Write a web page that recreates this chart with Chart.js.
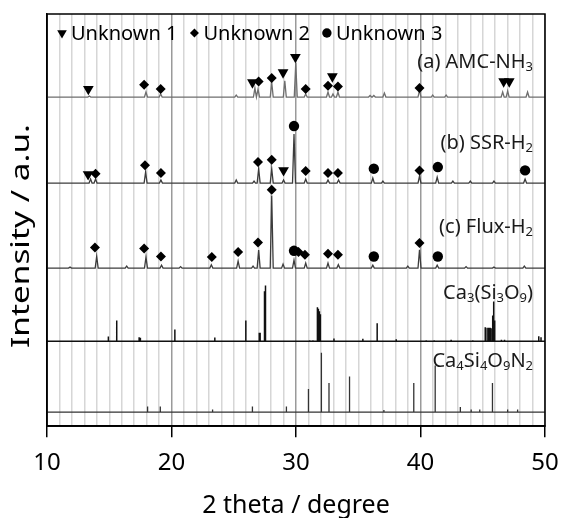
<!DOCTYPE html>
<html>
<head>
<meta charset="utf-8">
<script src="https://cdn.jsdelivr.net/npm/chart.js@4.4.0/dist/chart.umd.min.js"></script>
<style>
  html, body { margin: 0; padding: 0; background: #fff; }
  #wrap { width: 565px; height: 518px; }
</style>
</head>
<body>
<div id="wrap"><canvas id="xrdChart" width="565" height="518"></canvas></div>
<script>
// x range (2 theta) and labelled ticks
const xMin = 10;
const xMax = 50;
const xTickLabels = [10, 20, 30, 40, 50];

// stacking offsets of the patterns (a.u.)
const offsetA = 329;
const offsetB = 243;
const offsetC = 158;
const offsetCa3 = 85;
const offsetCa4 = 14;

// (a) AMC-NH3 peaks
const peaksA = [13.4, 17.95, 19.13, 25.2, 26.7, 26.95, 28.05, 29.1, 29.98, 30.78, 32.57, 32.97, 33.37, 35.95, 36.25, 37.1, 39.92, 40.98, 42.06, 46.6, 47.0, 48.6];
const heightsA = [1, 5, 3, 2, 9, 8, 14.7, 16.3, 34, 3, 5, 3, 5, 1.5, 1.5, 4, 7, 2, 2, 5, 6, 5];

// (b) SSR-H2 peaks
const peaksB = [13.5, 13.9, 17.92, 19.15, 25.2, 26.63, 27.0, 28.05, 29.0, 29.84, 30.78, 32.57, 33.42, 36.17, 36.98, 39.92, 41.34, 42.6, 44.0, 45.9, 48.4];
const heightsB = [4, 4, 11, 3, 3, 2, 14.3, 14.3, 3, 49, 4, 3, 3, 5, 2, 7, 6, 2, 2, 2, 4];

// (c) Flux-H2 peaks
const peaksC = [11.85, 13.99, 16.4, 17.95, 19.2, 20.73, 23.2, 25.35, 26.55, 27.0, 28.05, 28.96, 29.84, 30.78, 32.57, 33.4, 36.17, 38.98, 39.92, 41.34, 43.66, 45.9, 48.34];
const heightsC = [1, 11.7, 2, 11, 3, 1.5, 3.3, 7, 2, 18, 72.5, 4, 8, 5, 5, 3.5, 3, 2, 18.3, 3, 1.5, 1, 2];

// Ca3(Si3O9) reference lines
const ca3Pos = [14.93, 15.6, 17.4, 17.5, 20.27, 23.48, 25.97, 27.05, 27.12, 27.47, 27.55, 31.1, 31.36, 31.72, 31.8, 31.88, 31.96, 33.05, 35.37, 36.52, 38.05, 40.46, 41.1, 42.46, 44.2, 45.2, 45.35, 45.48, 45.59, 45.67, 45.8, 45.88, 45.96, 46.5, 46.75, 49.5, 49.68];
const ca3Int = [4.7, 20.7, 4, 3.5, 11.7, 3.7, 20.7, 8.3, 8.3, 50, 55.7, 1, 1, 34, 32.3, 30, 27, 2.7, 2.5, 18, 2, 1, 1, 1.5, 1, 14, 13.5, 13.3, 13.3, 13, 25.7, 39.7, 20.7, 1.5, 1.5, 5, 4];

// Ca4Si4O9N2 reference lines
const ca4Pos = [18.08, 19.1, 23.3, 26.5, 29.23, 31.0, 32.04, 32.65, 34.3, 37.06, 39.46, 41.18, 43.2, 44.07, 44.76, 45.78, 47.0, 47.8];
const ca4Int = [5.7, 5.7, 2.7, 5.7, 5.7, 23.3, 59.3, 29.3, 35.7, 2.3, 29.3, 46.7, 5.3, 2.7, 2.7, 29.3, 2.7, 2.7];

// phase markers: positions and height above each pattern's baseline
const u1A = [13.32, 26.5, 28.96, 29.95, 32.92, 46.68, 47.13];
const u1AH = [8, 14.6, 24.6, 40, 20.6, 15.6, 15.6];
const u1B = [13.3, 29.0];
const u1BH = [8.7, 12.7];
const u2A = [17.8, 19.13, 27.0, 28.05, 30.78, 32.57, 33.37, 39.92];
const u2AH = [12.3, 8, 15.6, 19, 8, 11.3, 10.6, 9];
const u2B = [13.9, 17.87, 19.15, 26.95, 28.05, 30.78, 32.57, 33.37, 39.92];
const u2BH = [9.4, 17.7, 10, 21, 23.4, 12, 10, 10, 12.7];
const u2C = [13.85, 17.8, 19.15, 23.24, 25.35, 26.95, 28.05, 30.2, 30.72, 32.57, 33.37, 39.92];
const u2CH = [20.6, 19.6, 11.6, 11, 16, 25.6, 78.3, 16, 13.3, 14.3, 13.3, 25];
const u3B = [29.84, 36.25, 41.39, 48.4];
const u3BH = [57, 14.4, 16, 12.7];
const u3C = [29.84, 36.25, 41.39];
const u3CH = [17.3, 11.6, 11.6];

const sampleLabels = ['(a) AMC-NH_3', '(b) SSR-H_2', '(c) Flux-H_2', 'Ca_3(Si_3O_9)', 'Ca_4Si_4O_9N_2'];
const yTitle = 'Intensity / a.u.';

const FONT = '"Noto Sans", "Open Sans", sans-serif';

function tracePoints(peaks, heights, offset) {
    const pts = [{ x: xMin, y: offset }];
    peaks.forEach((p, i) => {
        pts.push({ x: p - 0.12, y: offset }, { x: p, y: offset + heights[i] }, { x: p + 0.12, y: offset });
    });
    pts.push({ x: xMax, y: offset });
    return pts;
}

function stickPoints(pos, heights, offset) {
    const pts = [{ x: xMin, y: offset }];
    pos.forEach((p, i) => {
        pts.push({ x: p, y: offset }, { x: p, y: offset + heights[i] }, { x: p, y: offset });
    });
    pts.push({ x: xMax, y: offset });
    return pts;
}

function markerPoints(groups) {
    const pts = [];
    groups.forEach(([xs, hs, offset]) => {
        xs.forEach((x, i) => pts.push({ x: x, y: offset + hs[i] }));
    });
    return pts;
}

// frame around the plot area + y title
const framePlugin = {
    id: 'frame',
    afterDraw(chart) {
        const { ctx, chartArea: a } = chart;
        ctx.save();
        ctx.strokeStyle = '#000';
        ctx.lineWidth = 1.5;
        ctx.strokeRect(a.left, a.top, a.right - a.left, a.bottom - a.top);

        // y title, stretched along the text like the original
        ctx.font = '25px ' + FONT;
        ctx.fillStyle = '#000';
        ctx.textAlign = 'center';
        ctx.textBaseline = 'middle';
        const w = ctx.measureText(yTitle).width;
        ctx.translate(22, 236);
        ctx.rotate(-Math.PI / 2);
        ctx.scale(224 / w, 1);
        ctx.fillText(yTitle, 0, 0);
        ctx.restore();
    }
};

// legend inside the plot, in one row
const legendPlugin = {
    id: 'innerLegend',
    afterDatasetsDraw(chart) {
        const { ctx, chartArea: a } = chart;
        ctx.save();
        ctx.font = '20px ' + FONT;
        ctx.textBaseline = 'middle';
        ctx.textAlign = 'left';
        let x = a.left + 15;
        const y = a.top + 19;
        [0, 1, 2].forEach(i => {
            const ds = chart.data.datasets[i];
            ctx.fillStyle = '#000';
            ctx.strokeStyle = '#000';
            Chart.helpers.drawPoint(ctx, {
                pointStyle: ds.pointStyle,
                rotation: ds.rotation || 0,
                radius: ds.pointRadius * 0.9,
                borderWidth: 0
            }, x, y);
            ctx.fillStyle = '#000';
            ctx.fillText(ds.label, x + 9, y + 1);
            x += 9 + ctx.measureText(ds.label).width + 17;
        });
        ctx.restore();
    }
};

// sample names with subscripts, right aligned
const labelPlugin = {
    id: 'sampleLabels',
    afterDatasetsDraw(chart) {
        const { ctx, scales } = chart;
        const anchors = [
            [offsetA, 35], [offsetB, 40], [offsetC, 41], [offsetCa3, 48], [offsetCa4, 51]
        ];
        ctx.save();
        ctx.fillStyle = '#1a1a1a';
        ctx.textBaseline = 'middle';
        sampleLabels.forEach((txt, i) => {
            const parts = [];
            for (let k = 0; k < txt.length; k++) {
                if (txt[k] === '_') { parts.push({ t: txt[k + 1], sub: true }); k++; }
                else parts.push({ t: txt[k], sub: false });
            }
            const fontOf = sub => (sub ? '13px ' : '20px ') + FONT;
            let width = 0;
            parts.forEach(p => { ctx.font = fontOf(p.sub); width += ctx.measureText(p.t).width; });
            let x = scales.x.getPixelForValue(49.04) - width;
            const y = scales.y.getPixelForValue(anchors[i][0] + anchors[i][1]);
            parts.forEach(p => {
                ctx.font = fontOf(p.sub);
                ctx.fillText(p.t, x, p.sub ? y + 5 : y);
                x += ctx.measureText(p.t).width;
            });
        });
        ctx.restore();
    }
};

const ctx = document.getElementById('xrdChart').getContext('2d');
new Chart(ctx, {
    type: 'scatter',
    data: {
        datasets: [
            {
                label: 'Unknown 1',
                data: markerPoints([[u1A, u1AH, offsetA], [u1B, u1BH, offsetB]]),
                pointStyle: 'triangle', rotation: 180, pointRadius: 6.2,
                backgroundColor: '#000', borderColor: '#000', borderWidth: 0,
                order: 1
            },
            {
                label: 'Unknown 2',
                data: markerPoints([[u2A, u2AH, offsetA], [u2B, u2BH, offsetB], [u2C, u2CH, offsetC]]),
                pointStyle: 'rectRot', pointRadius: 5,
                backgroundColor: '#000', borderColor: '#000', borderWidth: 0,
                order: 2
            },
            {
                label: 'Unknown 3',
                data: markerPoints([[u3B, u3BH, offsetB], [u3C, u3CH, offsetC]]),
                pointStyle: 'circle', pointRadius: 5.2,
                backgroundColor: '#000', borderColor: '#000', borderWidth: 0,
                order: 0
            },
            { label: 'a', data: tracePoints(peaksA, heightsA, offsetA), showLine: true, pointRadius: 0, borderColor: '#6e6e6e', borderWidth: 1.3, order: 5 },
            { label: 'b', data: tracePoints(peaksB, heightsB, offsetB), showLine: true, pointRadius: 0, borderColor: '#3c3c3c', borderWidth: 1.3, order: 5 },
            { label: 'c', data: tracePoints(peaksC, heightsC, offsetC), showLine: true, pointRadius: 0, borderColor: '#3c3c3c', borderWidth: 1.3, order: 5 },
            { label: 'Ca3', data: stickPoints(ca3Pos, ca3Int, offsetCa3), showLine: true, pointRadius: 0, borderColor: '#111', borderWidth: 1.5, order: 5 },
            { label: 'Ca4', data: stickPoints(ca4Pos, ca4Int, offsetCa4), showLine: true, pointRadius: 0, borderColor: '#333', borderWidth: 1.3, order: 5 }
        ]
    },
    options: {
        responsive: false,
        animation: false,
        events: [],
        layout: { padding: { top: 14, right: 20, left: 47, bottom: 0 } },
        plugins: {
            legend: { display: false },
            tooltip: { enabled: false }
        },
        scales: {
            x: {
                type: 'linear',
                min: xMin,
                max: xMax,
                ticks: {
                    stepSize: 1,
                    autoSkip: false,
                    maxRotation: 0,
                    minRotation: 0,
                    padding: 0,
                    color: '#000',
                    font: { family: FONT, size: 24, lineHeight: 2.2 },
                    callback: v => xTickLabels.includes(v) ? String(v) : ''
                },
                grid: {
                    color: c => (c.tick && c.tick.value % 10 === 0) ? '#9a9a9a' : '#d6d6d6',
                    lineWidth: 1.5,
                    tickLength: 11,
                    tickWidth: 1.5,
                    tickColor: c => (c.tick && c.tick.value % 10 === 0) ? '#000' : 'rgba(0,0,0,0)'
                },
                border: { color: '#000', width: 1.5 },
                title: {
                    display: true,
                    text: '2 theta / degree',
                    color: '#000',
                    font: { family: FONT, size: 25, lineHeight: 1 },
                    padding: { top: 3, bottom: 0 }
                }
            },
            y: {
                min: 0,
                max: 412,
                ticks: { display: false },
                grid: { display: false, drawTicks: false },
                border: { color: '#000', width: 1.5 },
                title: { display: false }
            }
        }
    },
    plugins: [framePlugin, legendPlugin, labelPlugin]
});
</script>
</body>
</html>
